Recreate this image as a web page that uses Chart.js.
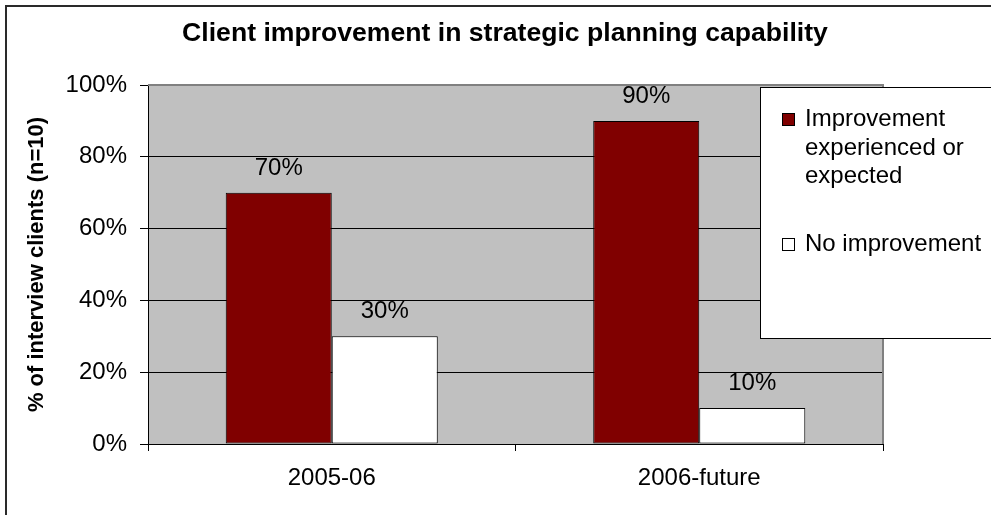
<!DOCTYPE html>
<html>
<head>
<meta charset="utf-8">
<title>Client improvement in strategic planning capability</title>
<script src="https://cdn.jsdelivr.net/npm/chart.js@4/dist/chart.umd.min.js"></script>
<style>
  html, body { margin: 0; padding: 0; background: #ffffff; }
  #wrap { width: 991px; height: 515px; position: relative; }
</style>
</head>
<body>
<div id="wrap"><canvas id="chart"></canvas></div>
<script>
// Survey periods along the x axis
const periods = ['2005-06', '2006-future'];

// Share of interviewed clients (%)
const improvedValues = [70, 90];
const notImprovedValues = [30, 10];

// Series names
const seriesNames = ['Improvement experienced or expected', 'No improvement'];

// Y axis tick values (%)
const yTicks = [0, 20, 40, 60, 80, 100];

const chartTitle = 'Client improvement in strategic planning capability';
const yAxisTitle = '% of interview clients (n=10)';

const FONT = "'Liberation Sans', Arial, sans-serif";
Chart.defaults.font.family = FONT;
Chart.defaults.color = '#000000';

// Grey plot area behind the grid, with its grey top/right edge
const plotBackground = {
  id: 'plotBackground',
  beforeDraw(chart) {
    const { ctx, chartArea: a } = chart;
    ctx.save();
    ctx.fillStyle = '#c0c0c0';
    ctx.fillRect(a.left, a.top, a.right - a.left, a.bottom - a.top);
    ctx.restore();
  },
  beforeDatasetsDraw(chart) {
    const { ctx, chartArea: a } = chart;
    ctx.save();
    ctx.strokeStyle = '#808080';
    ctx.lineWidth = 2;
    ctx.beginPath();
    ctx.moveTo(a.left, a.top);
    ctx.lineTo(a.right, a.top);
    ctx.lineTo(a.right, a.bottom);
    ctx.stroke();
    ctx.restore();
  }
};

// Percentage labels above each bar
const valueLabels = {
  id: 'valueLabels',
  afterDatasetsDraw(chart) {
    const { ctx } = chart;
    ctx.save();
    ctx.font = '24px ' + FONT;
    ctx.fillStyle = '#000000';
    ctx.textAlign = 'center';
    ctx.textBaseline = 'alphabetic';
    chart.data.datasets.forEach((ds, i) => {
      const meta = chart.getDatasetMeta(i);
      meta.data.forEach((bar, j) => {
        ctx.fillText(ds.data[j] + '%', bar.x, bar.y - 18);
      });
    });
    ctx.restore();
  }
};

// Chart heading, centred on the whole frame
const frameTitle = {
  id: 'frameTitle',
  afterDraw(chart) {
    const { ctx } = chart;
    ctx.save();
    ctx.font = 'bold 26.6px ' + FONT;
    ctx.fillStyle = '#000000';
    ctx.textAlign = 'center';
    ctx.textBaseline = 'alphabetic';
    ctx.fillText(chartTitle, 505, 41);
    ctx.restore();
  }
};

// Boxed legend with wrapped series names, plus the outer frame
const boxLegend = {
  id: 'boxLegend',
  afterDraw(chart) {
    const { ctx } = chart;
    ctx.save();
    // legend box
    ctx.fillStyle = '#ffffff';
    ctx.fillRect(760, 87, 240, 251);
    ctx.strokeStyle = '#000000';
    ctx.lineWidth = 1;
    ctx.strokeRect(760.5, 87.5, 240, 251);

    ctx.font = '24px ' + FONT;
    ctx.textAlign = 'left';
    ctx.textBaseline = 'alphabetic';
    const maxW = 185;
    const lineGap = 28.5;
    const starts = [126, 251];
    chart.data.datasets.forEach((ds, i) => {
      // wrap name into lines
      const words = ds.label.split(' ');
      const lines = [];
      let cur = '';
      words.forEach(w => {
        const test = cur ? cur + ' ' + w : w;
        if (ctx.measureText(test).width > maxW && cur) {
          lines.push(cur);
          cur = w;
        } else {
          cur = test;
        }
      });
      if (cur) lines.push(cur);
      const base = starts[i];
      // marker
      ctx.fillStyle = ds.backgroundColor;
      ctx.fillRect(782, base - 13, 13, 13);
      ctx.strokeStyle = '#000000';
      ctx.strokeRect(782.5, base - 12.5, 12, 12);
      ctx.fillStyle = '#000000';
      lines.forEach((ln, k) => ctx.fillText(ln, 805, base + k * lineGap));
    });

    // outer frame
    ctx.strokeStyle = '#2a2a2a';
    ctx.lineWidth = 2;
    ctx.strokeRect(6, 6, 1000, 520);
    ctx.restore();
  }
};

new Chart(document.getElementById('chart'), {
  type: 'bar',
  data: {
    labels: periods,
    datasets: [
      {
        label: seriesNames[0],
        data: improvedValues,
        backgroundColor: '#800000',
        borderColor: '#000000',
        borderWidth: 1,
        borderSkipped: false,
        categoryPercentage: 0.577,
        barPercentage: 1.0
      },
      {
        label: seriesNames[1],
        data: notImprovedValues,
        backgroundColor: '#ffffff',
        borderColor: '#000000',
        borderWidth: 1,
        borderSkipped: false,
        categoryPercentage: 0.577,
        barPercentage: 1.0
      }
    ]
  },
  options: {
    responsive: true,
    maintainAspectRatio: false,
    animation: false,
    layout: { padding: { left: 0, right: 108, top: 85, bottom: 0 } },
    plugins: {
      legend: { display: false },
      tooltip: { enabled: false },
      title: { display: false }
    },
    scales: {
      x: {
        afterFit(scale) { scale.height = 71; },
        grid: {
          display: true,
          drawOnChartArea: false,
          drawTicks: true,
          tickLength: 7,
          color: '#000000',
          offset: true
        },
        border: { display: true, color: '#000000', width: 1 },
        ticks: { font: { size: 24 }, padding: 13, color: '#000000' }
      },
      y: {
        min: 0,
        max: 100,
        afterFit(scale) { scale.width = 148; },
        afterBuildTicks(scale) { scale.ticks = yTicks.map(v => ({ value: v })); },
        grid: {
          color: ctx => (ctx.tick && ctx.tick.value === 100) ? '#808080' : '#000000',
          tickColor: '#000000',
          tickLength: 8,
          lineWidth: 1
        },
        border: { display: true, color: '#000000', width: 1 },
        ticks: {
          font: { size: 24 },
          padding: 13,
          color: '#000000',
          callback: v => v + '%'
        },
        title: {
          display: true,
          text: yAxisTitle,
          color: '#000000',
          font: { size: 22, weight: 'bold' },
          padding: { top: 24, bottom: 0 }
        }
      }
    }
  },
  plugins: [plotBackground, valueLabels, frameTitle, boxLegend]
});
</script>
</body>
</html>
